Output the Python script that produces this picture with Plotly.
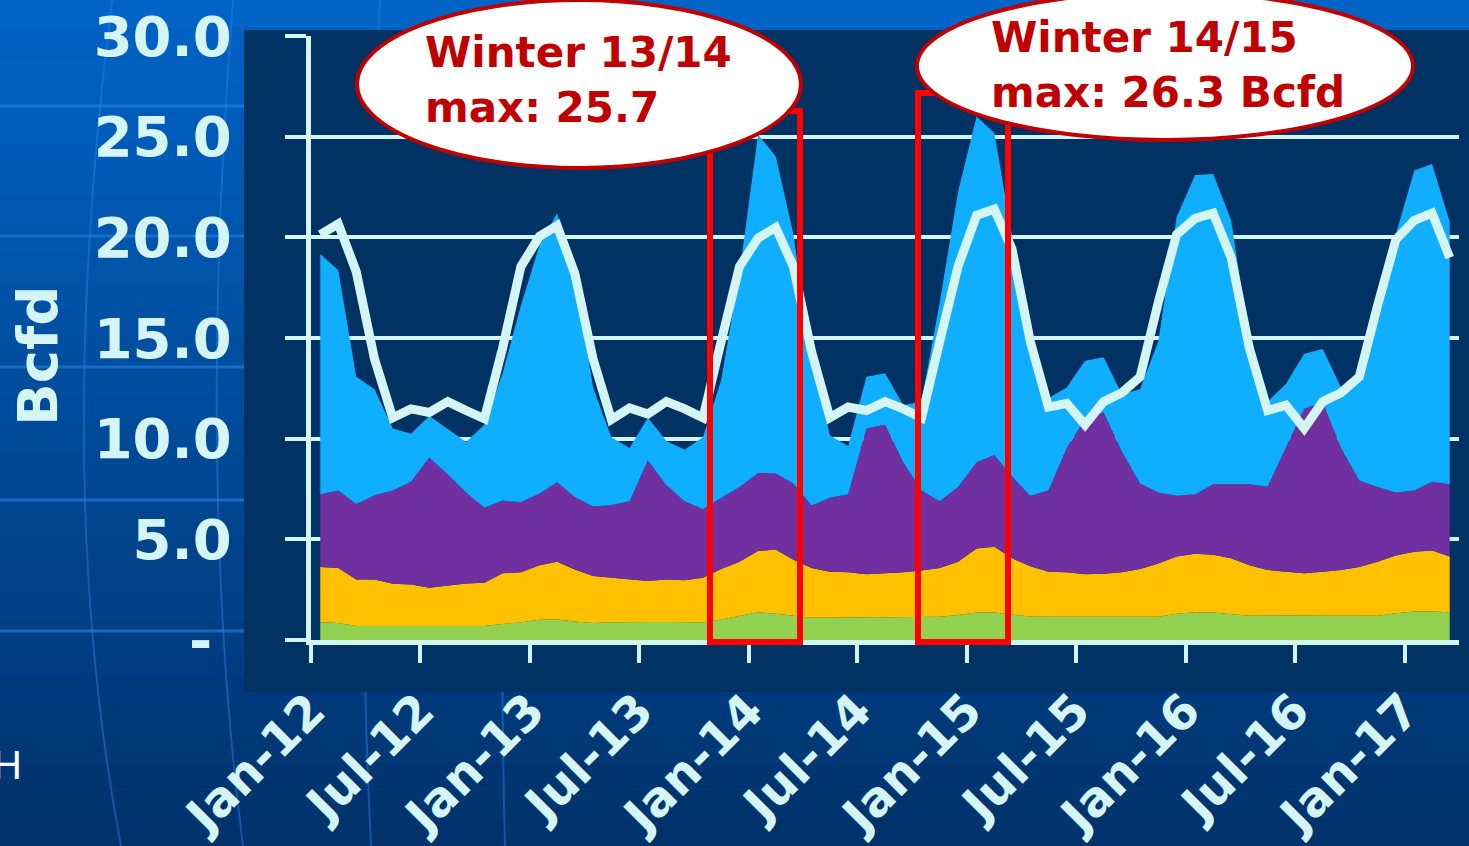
import pandas as pd
import plotly.graph_objects as go

W, H = 1469, 846

# monthly points, Jan-12 .. Mar-17
months = pd.date_range("2012-01-01", periods=63, freq="MS").strftime("%Y-%m").tolist()

green = [0.88, 0.85, 0.70, 0.70, 0.70, 0.70, 0.68, 0.70, 0.70, 0.70, 0.80, 0.88, 1.00, 1.02, 0.92, 0.85,
         0.88, 0.90, 0.90, 0.90, 0.88, 0.88, 1.02, 1.20, 1.38, 1.31, 1.20, 1.10, 1.10, 1.13, 1.13, 1.13,
         1.13, 1.13, 1.15, 1.24, 1.36, 1.36, 1.27, 1.17, 1.15, 1.15, 1.15, 1.15, 1.15, 1.15, 1.15, 1.31,
         1.38, 1.36, 1.27, 1.20, 1.22, 1.22, 1.22, 1.22, 1.20, 1.20, 1.20, 1.33, 1.41, 1.41, 1.38]
yellow = [2.74, 2.72, 2.30, 2.30, 2.09, 2.06, 1.92, 2.02, 2.11, 2.14, 2.52, 2.48, 2.71, 2.87, 2.58, 2.33,
          2.21, 2.10, 2.03, 2.10, 2.09, 2.21, 2.51, 2.69, 3.04, 3.19, 2.78, 2.47, 2.29, 2.23, 2.14, 2.19,
          2.23, 2.32, 2.42, 2.65, 3.18, 3.27, 2.79, 2.49, 2.24, 2.21, 2.12, 2.14, 2.21, 2.38, 2.65, 2.84,
          2.90, 2.88, 2.79, 2.51, 2.26, 2.17, 2.10, 2.17, 2.28, 2.42, 2.69, 2.87, 2.97, 3.04, 2.77]
purple = [3.62, 3.85, 3.75, 4.19, 4.63, 5.10, 6.46, 5.50, 4.52, 3.73, 3.61, 3.48, 3.57, 3.94, 3.60, 3.45,
          3.62, 3.89, 5.99, 4.69, 3.92, 3.41, 3.54, 3.71, 3.88, 3.77, 3.79, 3.11, 3.68, 3.88, 7.24, 7.37,
          5.47, 3.97, 3.32, 3.71, 4.29, 4.56, 4.07, 3.50, 4.03, 6.18, 7.68, 8.02, 6.00, 4.24, 3.53, 3.01,
          2.96, 3.50, 3.68, 4.03, 4.15, 6.15, 8.16, 8.41, 6.06, 4.30, 3.71, 3.13, 3.04, 3.41, 3.59]
blue = [11.93, 10.95, 6.32, 5.27, 3.09, 2.39, 2.07, 2.24, 2.51, 4.12, 6.32, 9.76, 12.32, 13.37, 11.10, 5.91,
        3.36, 2.65, 2.12, 2.20, 2.56, 3.57, 5.83, 10.60, 16.80, 15.76, 12.37, 7.28, 3.09, 2.39, 2.56, 2.56,
        2.83, 4.42, 9.89, 14.66, 17.17, 15.99, 12.01, 7.68, 4.59, 3.00, 2.92, 2.74, 2.84, 4.69, 7.51, 13.84,
        15.86, 15.40, 13.11, 7.10, 4.21, 3.18, 2.74, 2.65, 3.00, 5.15, 9.18, 12.81, 15.90, 15.78, 13.02]
line = [20.14, 20.67, 18.30, 13.96, 11.04, 11.48, 11.30, 11.84, 11.40, 10.99, 14.50, 18.55, 20.05, 20.58, 18.20, 13.96,
        10.95, 11.52, 11.22, 11.84, 11.48, 11.04, 14.84, 18.55, 19.96, 20.49, 18.55, 14.31, 11.04, 11.57, 11.40, 11.84,
        11.48, 11.04, 14.84, 18.55, 21.10, 21.40, 19.43, 14.84, 11.57, 11.75, 10.69, 11.84, 12.28, 13.07, 16.78, 20.14,
        20.94, 21.20, 18.99, 14.49, 11.40, 11.66, 10.51, 11.84, 12.28, 13.07, 16.61, 19.88, 20.85, 21.20, 18.99]

y_ticks = [0, 5, 10, 15, 20, 25, 30]
y_labels = ["-\u00a0", "5.0", "10.0", "15.0", "20.0", "25.0", "30.0"]

LIGHT = "#d5f5f5"
FONT = "DejaVu Sans"


def px(x):
    return x / W


def py(y):
    return 1 - y / H


fig = go.Figure()
for vals, color in [(green, "#92d050"), (yellow, "#ffc000"), (purple, "#7030a0"), (blue, "#10aeff")]:
    fig.add_trace(go.Scatter(
        x=months, y=vals, stackgroup="s", mode="lines", line=dict(width=0),
        fillcolor=color, xperiod="M1", xperiodalignment="middle", hoverinfo="skip",
    ))
fig.add_trace(go.Scatter(
    x=months, y=line, mode="lines", line=dict(color=LIGHT, width=9),
    xperiod="M1", xperiodalignment="middle",
))

shapes = []
# slide background gradient
top, bot = (0, 99, 198), (0, 50, 108)
n = 30
for k in range(n):
    t = k / (n - 1)
    c = tuple(round(a + (b - a) * t) for a, b in zip(top, bot))
    shapes.append(dict(type="rect", xref="paper", yref="paper", x0=0, x1=1,
                       y0=1 - (k + 1) / n, y1=1 - k / n, fillcolor="rgb(%d,%d,%d)" % c,
                       line=dict(width=0), layer="below"))
for yy in [106, 236, 367, 500, 631]:
    shapes.append(dict(type="line", xref="paper", yref="paper", x0=0, x1=px(244), y0=py(yy), y1=py(yy),
                       line=dict(color="rgba(40,130,230,0.6)", width=3), layer="below"))
for a, b, c in [(112, 84, 121), (233, 217, 243), (380, 364, 371), (520, 504, 505)]:
    shapes.append(dict(type="path", xref="paper", yref="paper",
                       path="M %f %f Q %f %f %f %f" % (px(a), py(0), px(b - (a + c) / 2 + b), py(480), px(c), py(846)),
                       line=dict(color="rgba(40,130,230,0.45)", width=2), layer="below"))
# dark chart area
shapes.append(dict(type="rect", xref="paper", yref="paper", x0=px(244), x1=1, y0=py(692), y1=py(30),
                   fillcolor="#003264", line=dict(width=0), layer="below"))
# winter highlight boxes
for x0, x1, y0 in [(710, 800, 111), (918, 1008, 93)]:
    shapes.append(dict(type="rect", xref="paper", yref="paper", x0=px(x0), x1=px(x1), y0=py(642), y1=py(y0),
                       line=dict(color="#ff0000", width=6)))
# callout ellipses
for x0, x1, y0, y1 in [(357, 801, 0, 168), (917, 1413, -8, 140)]:
    shapes.append(dict(type="circle", xref="paper", yref="paper", x0=px(x0), x1=px(x1), y0=py(y1), y1=py(y0),
                       fillcolor="white", line=dict(color="#c00000", width=4)))

annotations = [
    dict(text="Winter 13/14<br>max: 25.7", x=px(423), y=py(80), xanchor="left", yanchor="middle", align="left"),
    dict(text="Winter 14/15<br>max: 26.3 Bcfd", x=px(989), y=py(65), xanchor="left", yanchor="middle", align="left"),
]
for a in annotations:
    a.update(xref="paper", yref="paper", showarrow=False,
             font=dict(family=FONT, size=42, color="#c00000", weight="bold"))
annotations.append(dict(text="Bcfd", x=px(38), y=py(356), xref="paper", yref="paper", showarrow=False,
                        xanchor="center", yanchor="middle", textangle=-90,
                        font=dict(family=FONT, size=56, color=LIGHT, weight="bold")))
annotations.append(dict(text="H", x=px(24), y=py(765), xref="paper", yref="paper", showarrow=False,
                        xanchor="right", yanchor="middle",
                        font=dict(family="Liberation Sans", size=40, color="white")))

fig.update_layout(
    width=W, height=H, margin=dict(l=0, r=0, t=0, b=0, autoexpand=False),
    paper_bgcolor="#004a98", plot_bgcolor="rgba(0,0,0,0)",
    showlegend=False, shapes=shapes, annotations=annotations,
    xaxis=dict(
        domain=[px(311), px(1459)], type="date", range=["2012-01-01", "2017-04-01"],
        tick0="2012-01-01", dtick="M6", tickformat="%b-%y", tickangle=-45,
        ticks="outside", ticklen=18, tickwidth=4, tickcolor=LIGHT, automargin=False,
        showline=True, linewidth=5, linecolor=LIGHT, showgrid=False, zeroline=False,
        ticklabelstandoff=0,
        tickfont=dict(family=FONT, size=48, color=LIGHT, weight="bold"),
    ),
    yaxis=dict(
        domain=[py(640), py(36)], range=[0, 30],
        tickvals=y_ticks, ticktext=y_labels, automargin=False,
        ticks="outside", ticklen=21, tickwidth=4, tickcolor=LIGHT,
        showline=True, linewidth=5, linecolor=LIGHT,
        showgrid=True, gridcolor=LIGHT, gridwidth=4, zeroline=False,
        ticklabelstandoff=42,
        tickfont=dict(family=FONT, size=56, color=LIGHT, weight="bold"),
    ),
)

fig.write_html("out.html", config={"displayModeBar": False},
               post_script="document.body.style.margin='0';")
